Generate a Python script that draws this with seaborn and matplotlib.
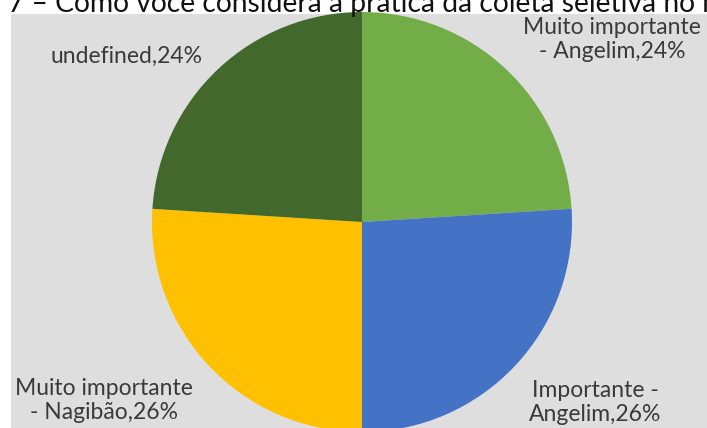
import matplotlib
matplotlib.use("Agg")
import matplotlib.pyplot as plt
import seaborn as sns

# dados
categorias = ["Muito importante\n- Angelim", "Importante -\nAngelim",
              "Muito importante\n- Nagibão", "undefined"]
valores = [24, 26, 26, 24]
cores = ["#72ad47", "#4472c4", "#ffc000", "#43682b"]
titulo = "7 – Como você considera a prática da coleta seletiva no município?"

# posição dos rótulos (coordenadas do eixo da pizza)
pos_rotulos = [(1.19, 0.87), (1.11, -0.86), (-1.23, -0.85), (-1.12, 0.79)]

sns.set_theme(style="white")
plt.rcParams['font.family'] = ['Lato', 'DejaVu Sans']

W, H = 707, 428
fig = plt.figure(figsize=(W / 100, H / 100), dpi=100, facecolor="white")
renderer = fig.canvas.get_renderer()

# painel cinza de fundo
bg = fig.add_axes([11 / W, 0, (W - 11) / W, (H - 14) / H])
bg.set_facecolor("#dedede")
bg.set_xticks([])
bg.set_yticks([])
for s in bg.spines.values():
    s.set_visible(False)

# título cortado no topo: ajusta o tamanho para "Como ... no" ocupar ~642 px
def largura(txt, size):
    t = fig.text(0, 0, txt, fontsize=size)
    w = t.get_window_extent(renderer).width
    t.remove()
    return w

tam = 10 * 642 / largura("Como você considera a prática da coleta seletiva no", 10)
x0 = 55 - largura("7 – ", tam)
fig.text(x0 / W, 1 - 12 / H, titulo, fontsize=tam, color="#111111",
         ha="left", va="baseline")

# pizza
r = 210
cx, cy = 362, H - 222
ax = fig.add_axes([(cx - r) / W, (cy - r) / H, 2 * r / W, 2 * r / H])
ax.set_facecolor("none")
wedges, _ = ax.pie(valores, colors=cores, startangle=90, counterclock=False,
                   wedgeprops=dict(linewidth=0), radius=1)
ax.set_xlim(-1, 1)
ax.set_ylim(-1, 1)
ax.set_aspect("equal")
ax.axis("off")

for cat, v, (x, y) in zip(categorias, valores, pos_rotulos):
    ax.text(x, y, f"{cat},{v}%", ha="center", va="center", fontsize=16.5,
            color="#3a3a3a", linespacing=1.2, clip_on=False)

fig.savefig("out.png", dpi=100, facecolor="white")
